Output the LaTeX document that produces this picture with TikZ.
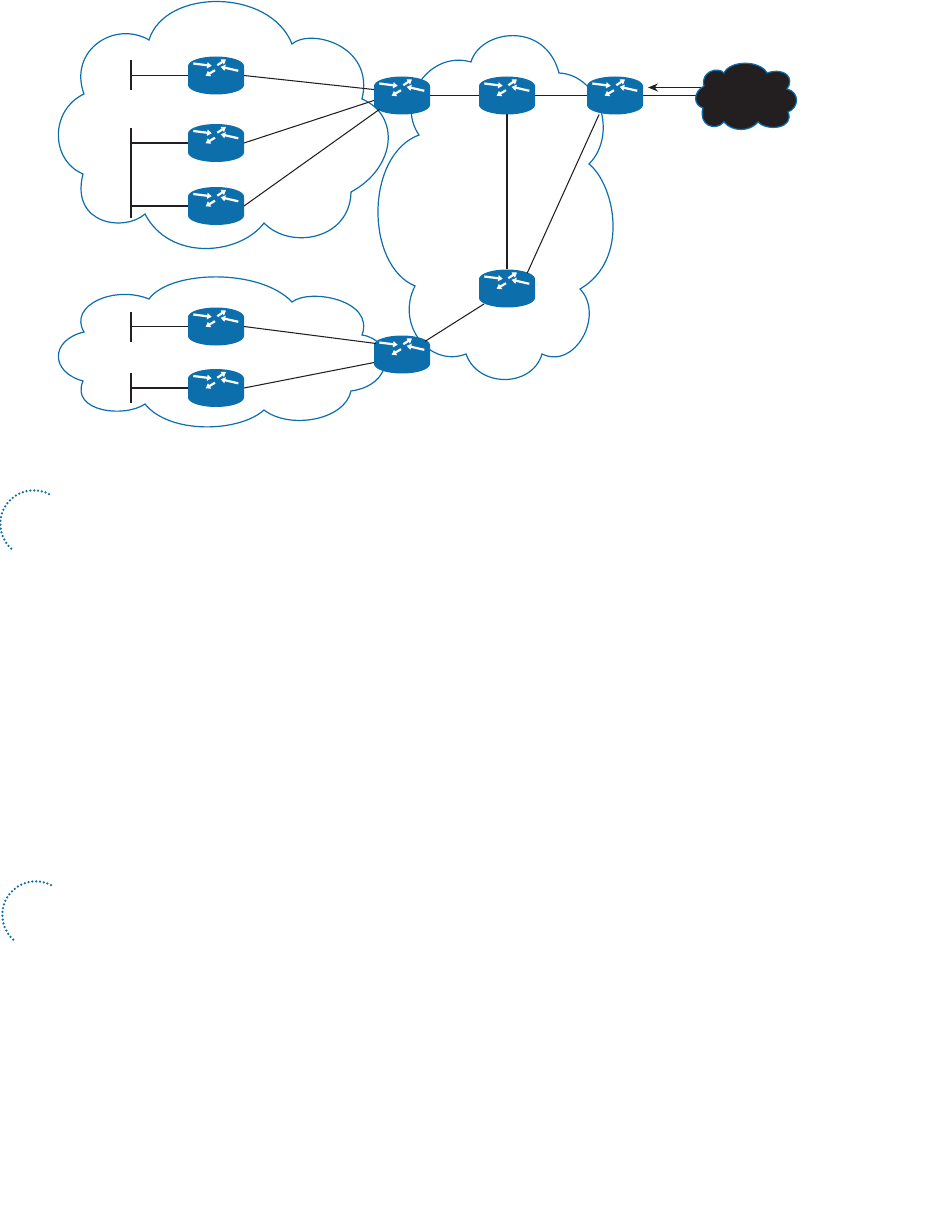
\documentclass[tikz,border=0pt]{standalone}
\usepackage{tikz}
\usetikzlibrary{arrows.meta}
\definecolor{netblue}{HTML}{0D6EAC}
\definecolor{inkblack}{HTML}{231F20}
\tikzset{
  routernode/.style={rectangle,minimum width=56pt,minimum height=38pt,inner sep=0pt,outer sep=0pt,
    path picture={
      \begin{scope}[shift={(path picture bounding box.center)}]
        \fill[netblue] (-28,-9.5) arc[start angle=180,end angle=0,x radius=28,y radius=-9.5]
          -- (28,9.5) arc[start angle=0,end angle=-180,x radius=28,y radius=-9.5] -- cycle;
        \draw[routerarrow] (-22.7,-12) -- (-4.3,-9.7);
        \draw[routerarrow] (1.3,-10.3) -- (10,-16);
        \draw[routerarrow] (22.3,-4.7) -- (4.7,-8.7);
        \draw[routerarrow] (-1,-5.3) -- (-10.3,0.3);
      \end{scope}
    }},
  routerarrow/.style={white,line width=2.2pt,-{Triangle[length=4.5pt,width=6pt]}},
  barnode/.style={rectangle,fill=inkblack,minimum width=1.6pt,inner sep=0pt,outer sep=0pt},
  cloudline/.style={netblue,line width=1.2pt,line join=miter},
  thinlink/.style={inkblack,line width=1.05pt},
  link/.style={inkblack,line width=1.8pt},
  dotarc/.style={netblue,line width=2.5pt,line cap=round,dash pattern=on 0pt off 3.85pt}
}

\begin{document}
\begin{tikzpicture}[x=1pt,y=-1pt]
\useasboundingbox (0,0) rectangle (941,1214);

% Upper left cloud
\draw[cloudline] (149,40) .. controls (165,-12) and (270,-12) .. (292,44)
  .. controls (310,28) and (375,45) .. (362,99)
  .. controls (400,115) and (397,167) .. (351,192)
  .. controls (350,240) and (290,250) .. (264,223)
  .. controls (240,255) and (170,262) .. (145,214)
  .. controls (125,232) and (70,225) .. (83,174)
  .. controls (50,160) and (50,110) .. (84,94)
  .. controls (68,50) and (115,20) .. (149,40) -- cycle;

% Middle cloud
\draw[cloudline] (471,62) .. controls (480,30) and (545,20) .. (559,73)
  .. controls (600,75) and (618,135) .. (589,164)
  .. controls (615,185) and (630,260) .. (580,289)
  .. controls (605,315) and (575,370) .. (542,354)
  .. controls (532,388) and (478,388) .. (466,354)
  .. controls (430,368) and (395,325) .. (415,286)
  .. controls (365,265) and (365,155) .. (419,135)
  .. controls (395,100) and (430,50) .. (471,62) -- cycle;

% Lower left cloud
\draw[cloudline] (149,299) .. controls (170,270) and (260,268) .. (292,302)
  .. controls (310,288) and (375,300) .. (362,335)
  .. controls (395,340) and (395,385) .. (351,391)
  .. controls (345,420) and (290,430) .. (264,410)
  .. controls (240,432) and (170,435) .. (145,404)
  .. controls (125,418) and (70,412) .. (83,381)
  .. controls (50,372) and (50,340) .. (84,332)
  .. controls (68,305) and (115,285) .. (149,299) -- cycle;

% Routers
\node[routernode] (R1) at (216,75.5) {};
\node[routernode] (R2) at (216,143) {};
\node[routernode] (R3) at (216,206) {};
\node[routernode] (L1) at (216,326.5) {};
\node[routernode] (L2) at (216,388) {};
\node[routernode] (edgeA) at (402,95.5) {};
\node[routernode] (edgeB) at (402,354.5) {};
\node[routernode] (core) at (507,95.5) {};
\node[routernode] (lower) at (507,288.5) {};
\node[routernode] (gate) at (615,95.5) {};

% LAN bars
\node[barnode,minimum height=30pt] (bar1) at (131,75.5) {};
\node[barnode,minimum height=90pt] (bar2) at (131,173) {};
\node[barnode,minimum height=30pt] (bar3) at (131,326.5) {};
\node[barnode,minimum height=30pt] (bar4) at (131,388) {};

\coordinate (ispW) at (697,95.5);
\coordinate (ispT) at (705,87.5);
\coordinate (gateT) at (648,87.5);

% LAN links
\draw[thinlink] (bar1) -- (R1);
\draw[link] (bar2.east |- R2) -- (R2);
\draw[link] (bar2.east |- R3) -- (R3);
\draw[thinlink] (bar3) -- (L1);
\draw[link] (bar4) -- (L2);

% Links to the edge routers
\draw[thinlink] (R1.east) -- (edgeA.168);
\draw[thinlink] (R2.east) -- (edgeA.190);
\draw[thinlink] (R3.east) -- ([shift={(6,-4)}]edgeA.212);
\draw[thinlink] (L1.east) -- ([shift={(2,0.3)}]edgeB.158);
\draw[thinlink] (L2.east) -- (edgeB.196);

% Core links
\draw[link] (edgeA) -- (core);
\draw[link] (core) -- (gate);
\draw[link] (core) -- (lower);
\draw[thinlink] (gate.230) -- ([shift={(-1.7,3.7)}]lower.41);
\draw[thinlink] ([shift={(-5,3)}]edgeB.30) -- ([shift={(5,-3.5)}]lower.south west);
\draw[link] (gate) -- (ispW);
\draw[thinlink,-{Stealth[length=10pt,width=8pt]}] (ispT) -- (gateT);

% Dark cloud
\draw[cloudline,fill=inkblack] (724,73) .. controls (730,60) and (760,60) .. (767,73)
  .. controls (785,67) and (795,78) .. (787,89)
  .. controls (800,92) and (799,108) .. (788,112)
  .. controls (795,128) and (768,132) .. (758,122)
  .. controls (750,132) and (732,132) .. (724,122)
  .. controls (715,132) and (698,125) .. (703,108)
  .. controls (693,105) and (693,92) .. (704,86)
  .. controls (700,72) and (718,66) .. (724,73) -- cycle;

% Dotted arcs
\coordinate (arcA) at (49,494);
\coordinate (arcB) at (51,885);
\draw[dotarc] (arcA) arc[start angle=-63,end angle=-232,radius=33.5];
\draw[dotarc] (arcB) arc[start angle=-63,end angle=-232,radius=33.5];

\end{tikzpicture}
\end{document}
